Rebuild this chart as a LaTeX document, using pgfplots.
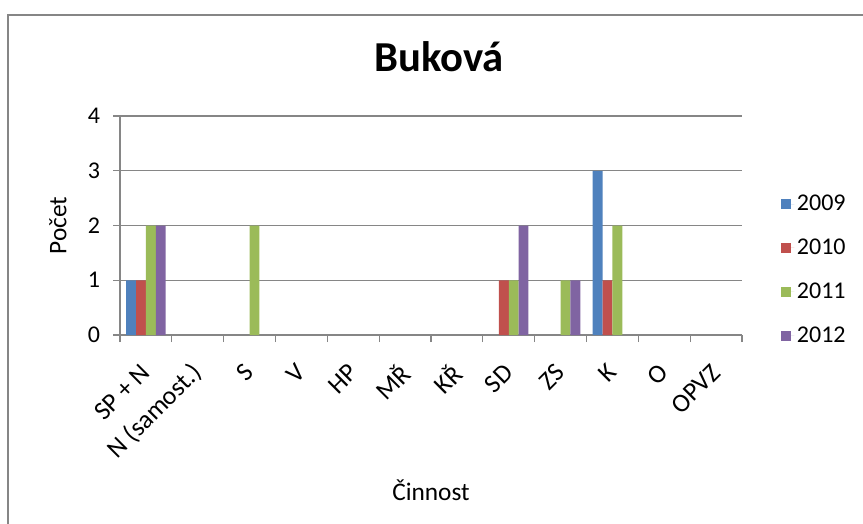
\documentclass[border=0pt]{standalone}
\usepackage{fontspec}
\setmainfont{Carlito}
\usepackage{pgfplots}
\pgfplotsset{compat=1.18}

\definecolor{c2009}{RGB}{79,129,189}
\definecolor{c2010}{RGB}{192,80,77}
\definecolor{c2011}{RGB}{155,187,89}
\definecolor{c2012}{RGB}{128,100,162}
\definecolor{gridgray}{RGB}{134,134,134}

\begin{document}
\begin{tikzpicture}
\useasboundingbox (0,0) rectangle (647.25pt,-393pt);
% ramecek grafu
\draw[gridgray, line width=1.5pt] (6pt,-393pt) -- (6pt,-11.25pt) -- (647.25pt,-11.25pt);

\begin{axis}[
    at={(90pt,-251.25pt)},
    anchor=south west,
    scale only axis,
    width=466.5pt,
    height=164.25pt,
    ybar=0pt,
    bar width=0.19,
    xmin=-0.5, xmax=11.5,
    ymin=0, ymax=4,
    ytick={0,1,2,3,4},
    xtick={-0.5,0.5,...,11.5},
    xticklabels={},
    extra x ticks={0,1,...,11},
    extra x tick labels={SP + N, N (samost.), S, V, HP, MŘ, KŘ, SD, ZS, K, O, OPVZ},
    extra x tick style={major tick length=0pt, grid=none},
    axis x line*=bottom,
    axis y line*=left,
    axis line style={draw=gridgray, line width=0.8pt, -},
    tick style={draw=gridgray, line width=0.8pt},
    tick align=outside,
    major tick length=5.25pt,
    ymajorgrids,
    grid style={draw=gridgray, line width=0.8pt},
    font=\fontsize{18}{21.6}\selectfont,
    /pgf/number format/assume math mode=true,
    yticklabel style={anchor=east, inner sep=0pt, xshift=-9.5pt},
    xticklabel style={inner sep=0pt, anchor=east, yshift=-25pt, xshift=0pt, rotate=45,
        font=\fontsize{19.5}{23}\selectfont},
    title={Buková},
    title style={at={(rel axis cs:0.5,1)}, anchor=center, yshift=38.5pt, xshift=6pt,
        font=\fontsize{32}{38}\selectfont\bfseries},
    xlabel={Činnost},
    every axis x label/.style={at={(rel axis cs:0.5,0)}, yshift=-116.25pt, anchor=center,
        font=\fontsize{19}{23}\selectfont},
    ylabel={Počet},
    every axis y label/.style={at={(rel axis cs:0,0.5)}, xshift=-46.5pt, rotate=90, anchor=center,
        font=\fontsize{19}{23}\selectfont},
    legend style={draw=none, fill=none, at={(rel axis cs:1,0.297)}, anchor=west,
        xshift=26.25pt, row sep=15.8pt, font=\fontsize{18}{21.6}\selectfont},
    legend cell align=left,
    legend image code/.code={%
        \fill[#1] (0pt,-3.75pt) rectangle (7.5pt,3.75pt);
        \path (0pt,0pt) -- (9.75pt,0pt);},
]
% 2009
\addplot[fill=c2009, draw=none] coordinates {(0,1) (9,3)};
% 2010
\addplot[fill=c2010, draw=none] coordinates {(0,1) (7,1) (9,1)};
% 2011
\addplot[fill=c2011, draw=none] coordinates {(0,2) (2,2) (7,1) (8,1) (9,2)};
% 2012
\addplot[fill=c2012, draw=none] coordinates {(0,2) (7,2) (8,1)};
\legend{2009, 2010, 2011, 2012}
\end{axis}
\end{tikzpicture}
\end{document}
